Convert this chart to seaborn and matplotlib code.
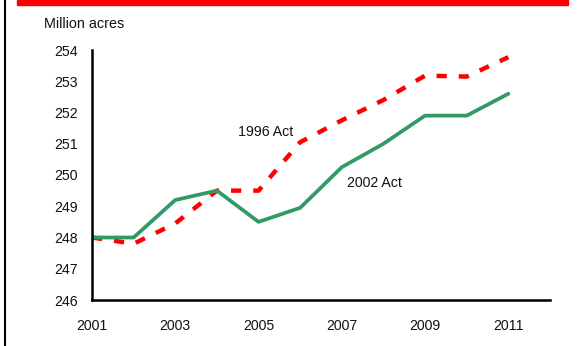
import matplotlib
matplotlib.use("Agg")
import matplotlib.pyplot as plt
import seaborn as sns
import pandas as pd
from matplotlib.lines import Line2D
from matplotlib.patches import Rectangle

years = [2001, 2002, 2003, 2004, 2005, 2006, 2007, 2008, 2009, 2010, 2011]
act_1996 = [248.0, 247.8, 248.45, 249.5, 249.5, 251.05, 251.75, 252.4, 253.18, 253.15, 253.77]
act_2002 = [248.0, 248.0, 249.2, 249.5, 248.5, 248.95, 250.25, 251.0, 251.9, 251.9, 252.6]
y_ticks = [246, 247, 248, 249, 250, 251, 252, 253, 254]
x_ticks = [2001, 2003, 2005, 2007, 2009, 2011]

sns.set_style("white")
plt.rcParams['font.family'] = ['Liberation Sans', 'DejaVu Sans']

fig = plt.figure(figsize=(5.8, 3.46), dpi=100)
ax = fig.add_axes([92/580, 1-300/346, (550-92)/580, (300-50)/346])

df96 = pd.DataFrame({"year": years, "value": act_1996})
df02 = pd.DataFrame({"year": years, "value": act_2002})

sns.lineplot(data=df96, x="year", y="value", ax=ax, color="#ff0000",
             linewidth=3.2, solid_capstyle="butt")
ax.lines[-1].set_dashes((2.3, 2.7))
ax.lines[-1].set_dash_capstyle("butt")
sns.lineplot(data=df02, x="year", y="value", ax=ax, color="#339966",
             linewidth=2.7)

ax.set_xlim(2001, 2012)
ax.set_ylim(246, 254)
ax.set_xticks(x_ticks)
ax.set_yticks(y_ticks)
ax.set_xlabel("")
ax.set_ylabel("")
for s in ["top", "right"]:
    ax.spines[s].set_visible(False)
for s in ["left", "bottom"]:
    ax.spines[s].set_linewidth(1.8)
    ax.spines[s].set_color("black")
ax.tick_params(axis="both", direction="in", length=4, width=1.5, colors="black",
               labelsize=10.2, labelcolor="#111111")
ax.tick_params(axis="x", pad=14)
ax.tick_params(axis="y", pad=10)

ax.text(2005.16, 251.38, "1996 Act", fontsize=10.2, ha="center", va="center", color="#111111")
ax.text(2007.78, 249.74, "2002 Act", fontsize=10.2, ha="center", va="center", color="#111111")

fig.text(44/580, 1-24.5/346, "Million acres", fontsize=10.4, ha="left", va="center", color="#111111")

# decorative frame: red top bar and left border line
fig.patches.append(Rectangle((17/580, 1-4.5/346), (568-17)/580, 4.5/346,
                             transform=fig.transFigure, color="#ff0000", zorder=5))
fig.lines.append(Line2D([5/580, 5/580], [0, 1], transform=fig.transFigure,
                        color="black", linewidth=1.5))

fig.savefig("out.png", dpi=100)
